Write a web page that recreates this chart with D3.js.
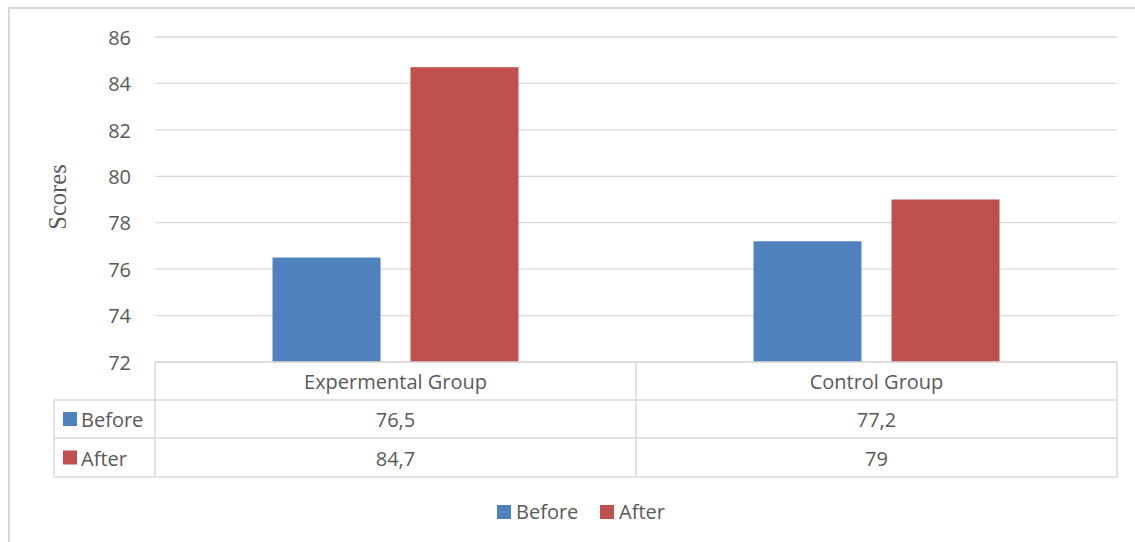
<!DOCTYPE html>
<html>
<head>
<meta charset="utf-8">
<script src="https://cdn.jsdelivr.net/npm/d3@7"></script>
<style>
  html, body { margin: 0; padding: 0; background: #fff; }
  svg { display: block; }
  text { font-family: "Open Sans", "Lato", sans-serif; fill: #595959; }
</style>
</head>
<body>
<svg id="chart" width="1135" height="542"></svg>
<script>
// Scores by group, before and after
const categories = ["Expermental Group", "Control Group"];
const seriesNames = ["Before", "After"];
const beforeValues = [76.5, 77.2];
const afterValues = [84.7, 79];
const valueLabels = [["76,5", "77,2"], ["84,7", "79"]];
const yTicks = [72, 74, 76, 78, 80, 82, 84, 86];
const colors = ["#4F81BD", "#C0504D"];

const series = [beforeValues, afterValues];

const svg = d3.select("#chart");
const gridColor = "#d9d9d9";
const fontFamily = '"Open Sans", "Lato", sans-serif';
const fs = "20px";

// Chart frame
svg.append("rect")
  .attr("x", 9).attr("y", 8)
  .attr("width", 1140).attr("height", 550)
  .attr("fill", "none").attr("stroke", gridColor).attr("stroke-width", 2);

const plot = { left: 155, right: 1117, top: 37, bottom: 362 };

const x0 = d3.scaleBand().domain(categories).range([plot.left, plot.right]);
const x1 = d3.scaleBand().domain(seriesNames)
  .range([x0.bandwidth() / 2 - 123, x0.bandwidth() / 2 + 123])
  .paddingInner(30 / 138);
const y = d3.scaleLinear().domain([72, 86]).range([plot.bottom, plot.top]);

// Gridlines
svg.append("g")
  .selectAll("line").data(yTicks).join("line")
  .attr("x1", plot.left).attr("x2", plot.right)
  .attr("y1", d => y(d)).attr("y2", d => y(d))
  .attr("stroke", gridColor).attr("stroke-width", 1.3);

// Y axis labels
const yAxis = d3.axisLeft(y).tickValues(yTicks).tickSize(0).tickPadding(0);
const yg = svg.append("g").attr("transform", `translate(131,0)`).call(yAxis);
yg.select(".domain").remove();
yg.selectAll("text")
  .attr("dy", "0.36em")
  .style("font-family", fontFamily)
  .style("font-size", fs).attr("fill", "#595959");

// Bars
const groups = svg.append("g").selectAll("g").data(categories).join("g")
  .attr("transform", d => `translate(${x0(d)},0)`);
groups.selectAll("rect")
  .data((d, i) => seriesNames.map((s, j) => ({ s, v: series[j][i], j })))
  .join("rect")
  .attr("x", d => x1(d.s))
  .attr("width", x1.bandwidth())
  .attr("y", d => y(d.v))
  .attr("height", d => y(72) - y(d.v))
  .attr("fill", d => colors[d.j]);

// Y axis title
svg.append("text")
  .attr("transform", "translate(66,197) rotate(-90)")
  .attr("text-anchor", "middle")
  .style("font-family", '"Liberation Serif", "Times New Roman", serif')
  .style("font-size", "24.5px")
  .attr("fill", "#404040")
  .text("Scores");

// Data table
const tbl = { left: 54, rows: [362, 400, 438, 477] };
const tg = svg.append("g").attr("stroke", gridColor).attr("stroke-width", 1.5);
tg.append("line").attr("x1", plot.left).attr("x2", plot.right).attr("y1", tbl.rows[0]).attr("y2", tbl.rows[0]);
[1, 2, 3].forEach(i => {
  tg.append("line").attr("x1", tbl.left).attr("x2", plot.right)
    .attr("y1", tbl.rows[i]).attr("y2", tbl.rows[i]);
});
tg.append("line").attr("x1", tbl.left).attr("x2", tbl.left).attr("y1", tbl.rows[1]).attr("y2", tbl.rows[3]);
[plot.left, plot.left + x0.bandwidth(), plot.right].forEach(xv => {
  tg.append("line").attr("x1", xv).attr("x2", xv).attr("y1", tbl.rows[0]).attr("y2", tbl.rows[3]);
});

// header
svg.append("g").selectAll("text").data(categories).join("text")
  .attr("x", d => x0(d) + x0.bandwidth() / 2)
  .attr("y", (tbl.rows[0] + tbl.rows[1]) / 2 + 8)
  .attr("text-anchor", "middle").style("font-size", fs)
  .text(d => d);
// rows
seriesNames.forEach((s, j) => {
  const cy = (tbl.rows[j + 1] + tbl.rows[j + 2]) / 2;
  svg.append("rect").attr("x", 63).attr("y", cy - 7).attr("width", 14).attr("height", 14).attr("fill", colors[j]);
  svg.append("text").attr("x", 81).attr("y", cy + 8).style("font-size", fs).text(s);
  categories.forEach((c, i) => {
    svg.append("text")
      .attr("x", x0(c) + x0.bandwidth() / 2)
      .attr("y", cy + 8)
      .attr("text-anchor", "middle").style("font-size", fs)
      .text(valueLabels[j][i]);
  });
});

// Legend
const legendItems = [{ name: "Before", x: 497 }, { name: "After", x: 600 }];
legendItems.forEach((d, j) => {
  svg.append("rect").attr("x", d.x).attr("y", 505).attr("width", 14).attr("height", 14).attr("fill", colors[j]);
  svg.append("text").attr("x", d.x + 19).attr("y", 519).style("font-size", fs).text(d.name);
});
</script>
</body>
</html>
